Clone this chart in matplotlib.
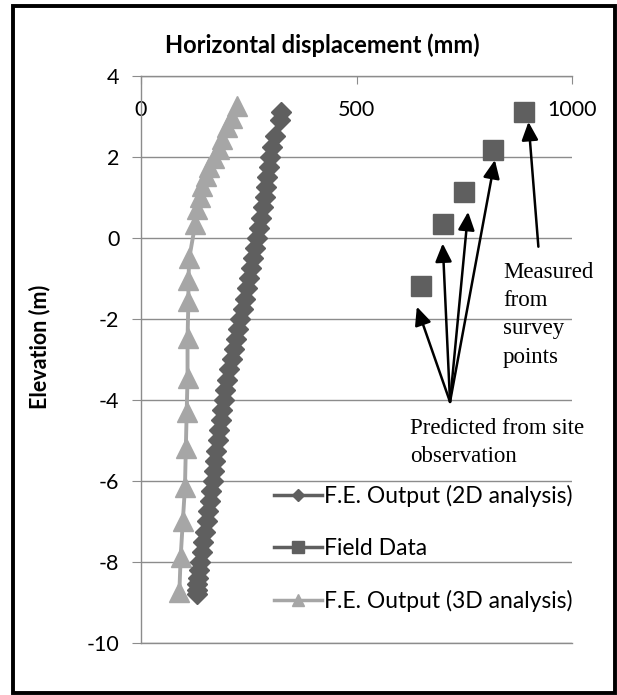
import matplotlib
matplotlib.use("Agg")
import matplotlib.pyplot as plt
from matplotlib.lines import Line2D
from matplotlib.patches import Rectangle

plt.rcParams['font.family'] = ['Lato', 'DejaVu Sans']
plt.rcParams['axes.unicode_minus'] = False

# F.E. output, 2D analysis (mm, m)
elev_2d = [3.1, 2.9, 2.5, 2.25, 2.0, 1.75, 1.5, 1.25, 1.0, 0.75, 0.5, 0.25, 0.0,
           -0.25, -0.5, -0.75, -1.0, -1.25, -1.5, -1.75, -2.0, -2.25, -2.5, -2.75,
           -3.0, -3.25, -3.5, -3.75, -4.0, -4.25, -4.5, -4.75, -5.0, -5.25, -5.5,
           -5.75, -6.0, -6.25, -6.5, -6.75, -7.0, -7.25, -7.5, -7.75, -8.0, -8.2,
           -8.4, -8.55, -8.7, -8.8]
disp_2d = [324, 322, 311, 304, 299, 296, 293, 290, 287, 283, 279, 274, 269,
           264, 259, 255, 250, 246, 241, 236, 230, 225, 220, 215,
           210, 205, 200, 196, 192, 188, 185, 182, 179, 175, 172,
           169, 166, 163, 159, 156, 152, 149, 145, 142, 138, 135,
           132, 130, 129, 130]

# F.E. output, 3D analysis
elev_3d = [3.25, 2.95, 2.73, 2.44, 2.19, 1.98, 1.74, 1.53, 1.28, 1.0, 0.7, 0.35,
           -0.5, -1.05, -1.55, -2.48, -3.45, -4.3, -5.2, -6.15, -7.0, -7.88, -8.75]
disp_3d = [223, 212, 200, 189, 180, 170, 158, 150, 142, 138, 131, 126,
           112, 110, 110, 108, 108, 106, 104, 102, 97, 92, 89]

# field data
elev_field = [3.1, 2.17, 1.12, 0.33, -1.19]
disp_field = [889, 817, 749, 700, 649]

# annotation arrows
pred_tail = (717, -4.05)
pred_heads = [(640, -1.70), (700, -0.14), (759, 0.64), (821, 1.92)]
meas_tail = (922, -0.22)
meas_head = (899, 2.86)

c2d = '#5f5f5f'
c3d = '#a6a6a6'
cgrid = '#8c8c8c'

fig = plt.figure(figsize=(6.17, 6.95), dpi=100)
ax = fig.add_axes([141/617, 1 - 643/695, 431/617, (643 - 75.7)/695])

ax.plot(disp_3d, elev_3d, color=c3d, lw=2.8, marker='^', ms=14, mec=c3d, zorder=3)
ax.plot(disp_2d, elev_2d, color=c2d, lw=2.5, marker='D', ms=10.5, mec=c2d, zorder=4)
ax.plot(disp_field, elev_field, ls='none', color=c2d, marker='s', ms=14.5, mec=c2d, zorder=4)

arw = dict(arrowstyle='-|>,head_length=0.55,head_width=0.25', color='black',
           lw=1.8, mutation_scale=20, shrinkA=0, shrinkB=0)
for h in pred_heads:
    ax.annotate('', xy=h, xytext=pred_tail, arrowprops=arw, zorder=5)
ax.annotate('', xy=meas_head, xytext=meas_tail, arrowprops=arw, zorder=5)

ax.text(840, -0.6, 'Measured\nfrom\nsurvey\npoints', family='Liberation Serif',
        fontsize=16.5, ha='left', va='top', linespacing=1.45)
ax.text(624, -4.45, 'Predicted from site\nobservation', family='Liberation Serif',
        fontsize=16.5, ha='left', va='top', linespacing=1.4)

ax.set_xlim(0, 1000)
ax.set_ylim(-10, 4)
ax.set_xticks([0, 500, 1000])
ax.set_yticks(range(-10, 5, 2))
ax.grid(axis='y', color=cgrid, lw=1.0)
ax.set_axisbelow(True)

for s in ['left', 'top', 'bottom']:
    ax.spines[s].set_color(cgrid)
    ax.spines[s].set_linewidth(1.0)
ax.spines['right'].set_visible(False)

ax.tick_params(axis='y', direction='out', length=6.5, color=cgrid, labelsize=15.5, pad=9)
ax.tick_params(axis='x', top=True, bottom=False, labeltop=True, labelbottom=False,
               direction='in', length=6, color=cgrid, labelsize=15.5, pad=-32)

handles = [
    Line2D([], [], color=c2d, lw=2.5, marker='D', ms=6),
    Line2D([], [], color=c2d, lw=2.5, marker='s', ms=9),
    Line2D([], [], color=c3d, lw=2.5, marker='^', ms=9),
]
labels = ['F.E. Output (2D analysis)', 'Field Data', 'F.E. Output (3D analysis)']
ax.legend(handles, labels, loc='upper left', bbox_to_anchor=(0.287, 0.294),
          frameon=False, fontsize=16.5, handlelength=2.1, handletextpad=0.1,
          labelspacing=1.33, borderaxespad=0)

fig.text(0.523, 1 - 45/695, 'Horizontal displacement (mm)', ha='center', va='center',
         fontsize=17, weight='bold')
fig.text(40/617, 1 - 347/695, 'Elevation (m)', ha='center', va='center',
         rotation=90, fontsize=15.5, weight='bold')

fig.patches.append(Rectangle((13/617, 1 - 693/695), 602/617, 687/695,
                             transform=fig.transFigure, fill=False,
                             edgecolor='black', lw=2.8))

fig.savefig('out.png', dpi=100)
